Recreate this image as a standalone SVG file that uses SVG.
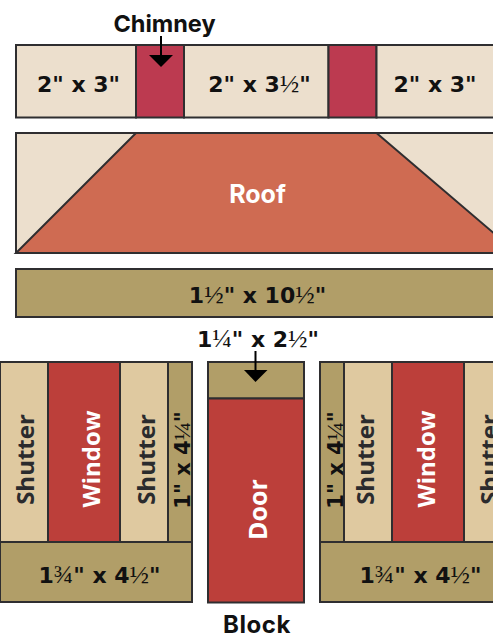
<svg xmlns="http://www.w3.org/2000/svg" width="493" height="634" viewBox="0 0 493 634">
<style>
rect,polygon.p{stroke:#2f2e30;stroke-width:2}
.cream{fill:#ecdfcd}.chim{fill:#bc3a50}.roof{fill:#cf6b52}.tan{fill:#b19e68}.shut{fill:#dfc9a0}.red{fill:#bc3f3a}
text{font-family:Inter,"Liberation Sans",sans-serif;font-weight:700;text-anchor:middle;fill:#111}
.d{font-family:"DejaVu Sans",sans-serif;font-size:22px}
.v{font-size:24px;font-weight:700;font-family:"Open Sans","Liberation Sans",sans-serif;fill:#2b2b2d}
.w{fill:#fff;font-size:24px;font-family:"Open Sans","Liberation Sans",sans-serif}
.f{font-family:"Liberation Serif",serif;font-weight:400;font-size:26px}
.s{font-size:21px}
.s .f{font-size:24px}
</style>
<g id="top-row">
<rect class="cream" x="16" y="45" width="120" height="72.5"/>
<rect class="chim" x="136" y="45" width="48" height="72.5"/>
<rect class="cream" x="184" y="45" width="144.500" height="72.5"/>
<rect class="chim" x="328.500" y="45" width="48" height="72.5"/>
<rect class="cream" x="376.500" y="45" width="130" height="72.5"/>
<text class="d" x="78.500" y="91.500">2" x 3"</text>
<text class="d" x="259.500" y="91.500">2" x 3<tspan class="f">½</tspan>"</text>
<text class="d" x="435" y="91.500">2" x 3"</text>
</g>
<g id="roof">
<rect class="cream" x="16" y="133" width="500" height="120"/>
<polygon class="p roof" points="136,133 376.500,133 517,253 16,253"/>
<text x="257.500" y="203" style="font-size:25px;fill:#fff">Roof</text>
</g>
<g id="band"><rect class="tan" x="16" y="269" width="500" height="48"/>
<text class="d" x="257.500" y="303">1<tspan class="f">½</tspan>" x 10<tspan class="f">½</tspan>"</text></g>
<g id="left-block">
<rect class="shut" x="0" y="362" width="48" height="180"/>
<rect class="red" x="48" y="362" width="72" height="180"/>
<rect class="shut" x="120" y="362" width="48" height="180"/>
<rect class="tan" x="168" y="362" width="24" height="180"/>
<rect class="tan" x="0" y="542" width="192" height="60"/>
<text class="v" transform="translate(34,459.500) rotate(-90)">Shutter</text>
<text class="w" transform="translate(99.500,459) rotate(-90)">Window</text>
<text class="v" transform="translate(154.500,459.500) rotate(-90)">Shutter</text>
<text class="d s" transform="translate(189.500,460) rotate(-90)">1" x 4<tspan class="f">¼</tspan>"</text>
<text class="d" x="99.500" y="583">1<tspan class="f">¾</tspan>" x 4<tspan class="f">½</tspan>"</text>
</g>
<g id="door-block">
<rect class="tan" x="208" y="362" width="96" height="36.500"/>
<rect class="red" x="208" y="398.500" width="96" height="204"/>
<text class="w" transform="translate(266.500,509.500) rotate(-90)" style="font-size:25px">Door</text>
</g>
<g id="right-block">
<rect class="tan" x="320" y="362" width="24" height="180"/>
<rect class="shut" x="344" y="362" width="48" height="180"/>
<rect class="red" x="392" y="362" width="72" height="180"/>
<rect class="shut" x="464" y="362" width="48" height="180"/>
<rect class="tan" x="320" y="542" width="192" height="60"/>
<text class="d s" transform="translate(342.500,460) rotate(-90)">1" x 4<tspan class="f">¼</tspan>"</text>
<text class="v" transform="translate(374,459.500) rotate(-90)">Shutter</text>
<text class="w" transform="translate(434.500,459) rotate(-90)">Window</text>
<text class="v" transform="translate(497.500,459.500) rotate(-90)">Shutter</text>
<text class="d" x="420.500" y="583">1<tspan class="f">¾</tspan>" x 4<tspan class="f">½</tspan>"</text>
</g>
<g id="labels">
<text x="164.500" y="32" style="font-size:23.500px">Chimney</text>
<text class="d" x="258" y="346.500">1<tspan class="f">¼</tspan>" x 2<tspan class="f">½</tspan>"</text>
<text x="257" y="633" style="font-size:24px;letter-spacing:.6px">Block</text>
</g>
<g id="connectors">
<path d="M161 36V56" stroke="#000" stroke-width="2" fill="none"/><polygon points="149,55 173,55 161,67" fill="#000"/>
<path d="M255.500 351V371" stroke="#000" stroke-width="2" fill="none"/><polygon points="244,370 267.500,370 255.500,382" fill="#000"/>
</g>
</svg>
